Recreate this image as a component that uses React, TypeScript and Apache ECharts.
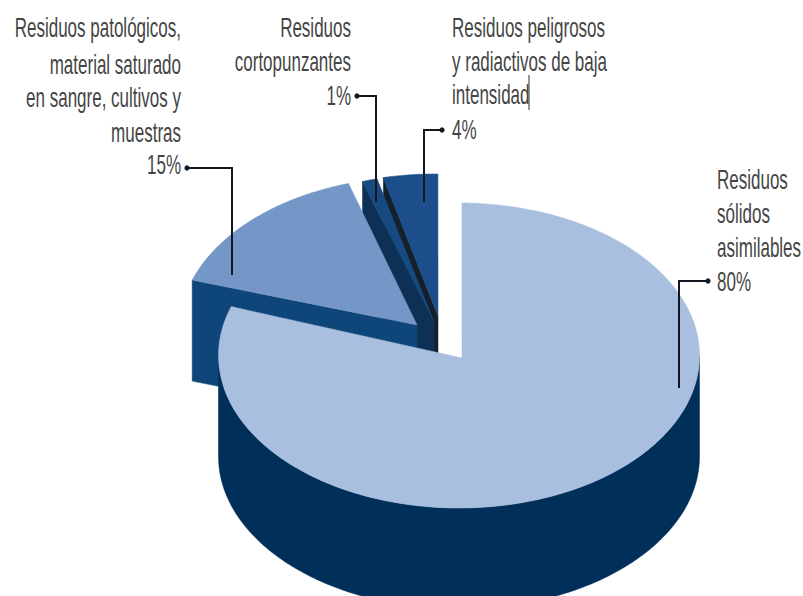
import React, { useEffect, useRef } from "react";
import * as echarts from "echarts";

// Waste shares, in the order they run clockwise from twelve o'clock.
const shareNames = [
  "Residuos sólidos asimilables",
  "Residuos patológicos, material saturado en sangre, cultivos y muestras",
  "Residuos cortopunzantes",
  "Residuos peligrosos y radiactivos de baja intensidad",
];
const shareValues = [80, 15, 1, 4];

const topColors = ["#a9bfdf", "#7597c8", "#174a80", "#1c4e8c"];
const wallColors = ["#00305a", "#0f4679", "#0e3054", "#14202c"];

// Per-slice geometry of the pulled-apart pie.
const arcCentres = [[459, 355.5], [420, 329], [434, 327], [435, 326.5]];
const apexes = [[462, 358], [417, 325], [434, 322], [438, 316]];
const startPads = [0, 0, 0, 1.3];

const RX = 240.5;
const RY = 152.5;
const DEPTH = 101;
const ROTATION = 0.7;

const labelBlocks = [
  { x: 181, align: "right", ys: [28, 65, 98, 133, 165], lines: ["Residuos patológicos,", "material saturado", "en sangre, cultivos y", "muestras", "15%"] },
  { x: 351, align: "right", ys: [28, 62, 96], lines: ["Residuos", "cortopunzantes", "1%"] },
  { x: 452, align: "left", ys: [28, 62, 95, 130], lines: ["Residuos peligrosos", "y radiactivos de baja", "intensidad", "4%"] },
  { x: 717, align: "left", ys: [180, 214, 248, 282], lines: ["Residuos", "sólidos", "asimilables", "80%"] },
];

const leaders = [
  [[187, 168], [232, 168], [232, 275]],
  [[357, 96], [376, 96], [376, 202]],
  [[442, 130], [424, 130], [424, 202]],
  [[708, 281], [679, 281], [679, 388]],
];

const total = shareValues.reduce((a, b) => a + b, 0);
const toDeg = (v: number) => (v / total) * 360;

function arcPoint(c: number[], deg: number, drop = 0) {
  const t = (deg * Math.PI) / 180;
  return [c[0] + RX * Math.sin(t), c[1] - RY * Math.cos(t) + drop];
}

function arcRun(c: number[], from: number, to: number, drop = 0) {
  const pts: number[][] = [];
  const steps = Math.max(2, Math.ceil(Math.abs(to - from)));
  for (let i = 0; i <= steps; i++) pts.push(arcPoint(c, from + ((to - from) * i) / steps, drop));
  return pts;
}

function renderSlice(_: any, api: any) {
  const idx = api.value(0);
  let before = 0;
  for (let i = 0; i < idx; i++) before += shareValues[i];
  const start = ROTATION + toDeg(before) + startPads[idx];
  const end = ROTATION + toDeg(before + api.value(1));
  const c = arcCentres[idx];
  const apex = apexes[idx];
  const children: any[] = [];
  const poly = (points: number[][], fill: string) =>
    children.push({ type: "polygon", shape: { points }, style: { fill, stroke: fill, lineWidth: 0.5 } });

  // Outer rim: only the part of the arc that faces the viewer.
  const rimFrom = Math.max(start, 90);
  const rimTo = Math.min(end, 270);
  if (rimTo > rimFrom) {
    poly([...arcRun(c, rimFrom, rimTo), ...arcRun(c, rimTo, rimFrom, DEPTH)], wallColors[idx]);
  }
  // Cut face along the leading radius, when it turns toward the viewer.
  if (Math.sin((start * Math.PI) / 180) < 0) {
    const p = arcPoint(c, start);
    poly([p, apex, [apex[0], apex[1] + DEPTH], [p[0], p[1] + DEPTH]], wallColors[idx]);
  }
  poly([apex, ...arcRun(c, start, end)], topColors[idx]);
  return { type: "group", children };
}

export default function App() {
  const ref = useRef<HTMLDivElement>(null);

  useEffect(() => {
    document.body.style.margin = "0";
    const chart = echarts.init(ref.current!, undefined, { renderer: "svg" });

    const textEls: any[] = [];
    labelBlocks.forEach((b) =>
      b.lines.forEach((line, i) =>
        textEls.push({
          type: "text",
          x: b.x,
          y: b.ys[i],
          scaleX: 0.63,
          z: 100,
          style: {
            text: line,
            align: b.align,
            verticalAlign: "middle",
            fontFamily: "Liberation Sans",
            fontSize: 27,
            fill: "#454545",
          },
        })
      )
    );
    const leaderEls: any[] = [];
    leaders.forEach((pts) => {
      leaderEls.push({
        type: "polyline",
        z: 100,
        shape: { points: pts },
        style: { stroke: "#14181e", lineWidth: 2, fill: "none" },
      });
      leaderEls.push({
        type: "circle",
        z: 100,
        shape: { cx: pts[0][0], cy: pts[0][1], r: 2.6 },
        style: { fill: "#14181e" },
      });
    });
    // Thin stray stroke set after "intensidad".
    leaderEls.push({
      type: "line",
      z: 100,
      shape: { x1: 529, y1: 75, x2: 529, y2: 110 },
      style: { stroke: "#2e2e2e", lineWidth: 1 },
    });

    // Drawn back to front: the last slices sit behind the large one.
    const drawOrder = shareValues.map((v, i) => ({ name: shareNames[i], value: [i, v] })).reverse();

    chart.setOption({
      animation: false,
      backgroundColor: "#ffffff",
      series: [
        {
          type: "custom",
          coordinateSystem: "none",
          renderItem: renderSlice,
          data: drawOrder,
          silent: true,
        },
      ],
      graphic: { elements: [...leaderEls, ...textEls] },
    });
    return () => chart.dispose();
  }, []);

  return <div ref={ref} style={{ width: 803, height: 596 }} />;
}
